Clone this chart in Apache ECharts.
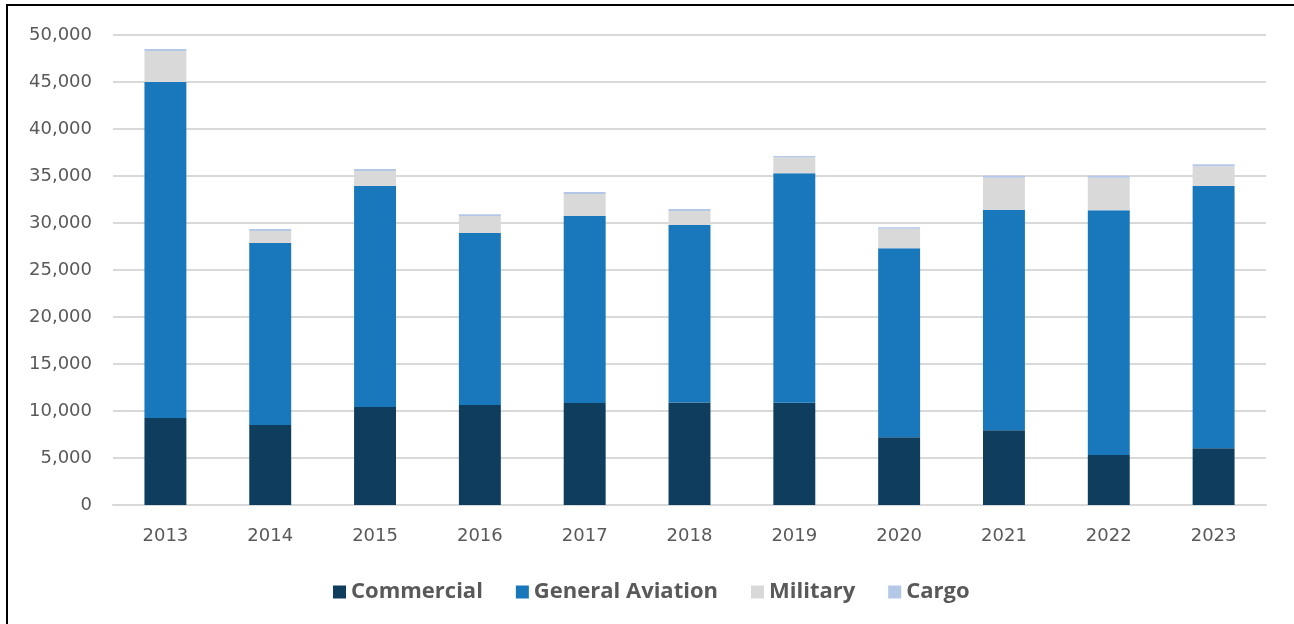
<!DOCTYPE html>
<html>
<head>
<meta charset="utf-8">
<script src="https://cdn.jsdelivr.net/npm/echarts@6/dist/echarts.min.js"></script>
<style>
  html, body { margin: 0; padding: 0; background: #fff; }
  #chart { width: 1294px; height: 624px; }
</style>
</head>
<body>
<div id="chart"></div>
<script>
// data
var years = ['2013', '2014', '2015', '2016', '2017', '2018', '2019', '2020', '2021', '2022', '2023']
var commercial = [9250, 8500, 10420, 10640, 10850, 10900, 10880, 7200, 7940, 5320, 6030]
var generalAviation = [35750, 19370, 23520, 18300, 19890, 18890, 24410, 20110, 23480, 26030, 27910]
var military = [3300, 1280, 1590, 1800, 2350, 1490, 1700, 2080, 3400, 3470, 2090]
var cargo = [200, 210, 210, 200, 200, 200, 150, 150, 210, 210, 210]

var chart = echarts.init(document.getElementById('chart'))

function bar(name, data, color) {
  return {
    name: name,
    type: 'bar',
    stack: 'ops',
    barWidth: '40%',
    data: data,
    itemStyle: { color: color },
    emphasis: { disabled: true }
  }
}

chart.setOption({
  animation: false,
  textStyle: { fontFamily: 'DejaVu Sans' },
  graphic: [{
    type: 'rect',
    shape: { x: 7, y: 5, width: 1400, height: 800 },
    style: { fill: 'none', stroke: '#000', lineWidth: 2 },
    silent: true
  }],
  grid: {
    left: 113,
    right: 28,
    top: 35,
    bottom: 119
  },
  legend: {
    left: 328,
    top: 576,
    itemWidth: 13,
    itemHeight: 13,
    itemGap: 33,
    icon: 'rect',
    textStyle: {
      fontFamily: 'Open Sans',
      fontWeight: 'bold',
      fontSize: 22,
      color: '#595959'
    },
    data: ['Commercial', 'General Aviation', 'Military', 'Cargo']
  },
  xAxis: {
    type: 'category',
    data: years,
    axisLine: { lineStyle: { color: '#d9d9d9', width: 2 } },
    axisTick: { show: false },
    axisLabel: { fontSize: 18, color: '#595959', margin: 22 }
  },
  yAxis: {
    type: 'value',
    min: 0,
    max: 50000,
    interval: 5000,
    axisLine: { show: false },
    axisTick: { show: false },
    splitLine: { lineStyle: { color: '#d9d9d9', width: 2 } },
    axisLabel: {
      fontSize: 18,
      color: '#595959',
      margin: 21,
      formatter: function (v) { return v.toLocaleString('en-US') }
    }
  },
  series: [
    bar('Commercial', commercial, '#0e3d5e'),
    bar('General Aviation', generalAviation, '#1878bb'),
    bar('Military', military, '#d9d9d9'),
    bar('Cargo', cargo, '#b4c7e7')
  ]
})
</script>
</body>
</html>
